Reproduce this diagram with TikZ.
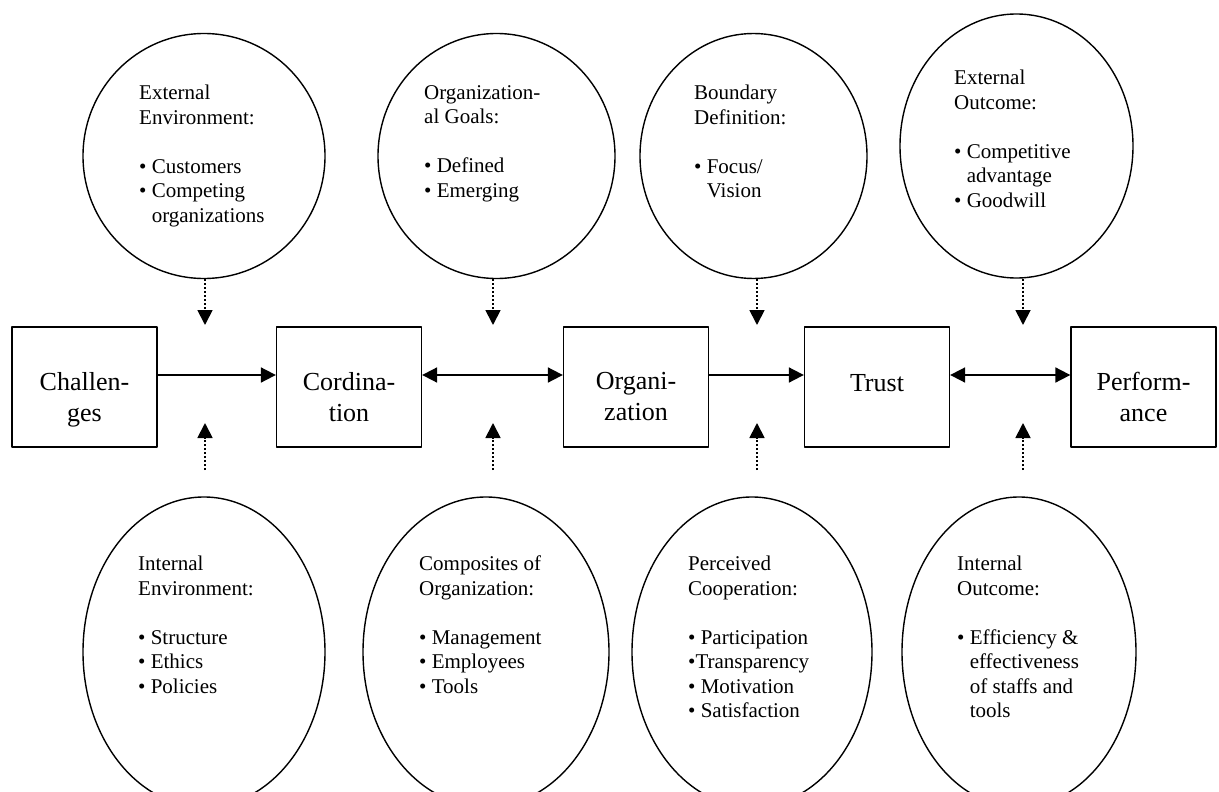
\documentclass[tikz,border=0pt]{standalone}
\usepackage{fontspec}
\setmainfont{Liberation Serif}
\usetikzlibrary{arrows.meta,shapes.geometric}
\begin{document}
\begin{tikzpicture}[x=1pt,y=-1pt,>={Triangle[length=15pt,width=15pt]},line join=round,
	blk/.style={draw,line width=1.3pt,minimum width=145pt,minimum height=120pt,inner sep=0pt},
	blktxt/.style={anchor=north,align=center,inner sep=0pt,font=\fontsize{26}{31}\selectfont},
	oval/.style={draw,ellipse,line width=1.4pt,inner sep=0pt},
	ovtxt/.style={anchor=north west,align=left,inner sep=0pt,font=\fontsize{21}{24.5}\selectfont},
	flow/.style={->,line width=1.8pt},
	dotarr/.style={->,line width=1.8pt,dash pattern=on 2pt off 2pt}]
	\def\gap{24.5pt}
	\useasboundingbox (0,0) rectangle (1219,792);
	
	% chain of boxes
	\node[blk] (chal) at (84.5,387) {};
	\node[blk] (cord) at (349,387) {};
	\node[blk] (orgn) at (636,387) {};
	\node[blk] (trust) at (877,387) {};
	\node[blk] (perf) at (1143.5,387) {};
	\node[blktxt] (chaltxt) at ([yshift=-46pt]chal.north) {Challen-\\ges};
	\node[blktxt] (cordtxt) at ([yshift=-46pt]cord.north) {Cordina-\\tion};
	\node[blktxt] (orgntxt) at ([yshift=-46pt]orgn.north) {Organi-\\zation};
	\node[blktxt] (trusttxt) at ([yshift=-48pt]trust.north) {Trust};
	\node[blktxt] (perftxt) at ([yshift=-46pt]perf.north) {Perform-\\ance};
	
	\draw[flow] ([yshift=12pt]chal.east) -- ([yshift=12pt]cord.west);
	\draw[flow,<->] ([yshift=12pt]cord.east) -- ([yshift=12pt]orgn.west);
	\draw[flow] ([yshift=12pt]orgn.east) -- ([yshift=12pt]trust.west);
	\draw[flow,<->] ([yshift=12pt]trust.east) -- ([yshift=12pt]perf.west);
	
	% upper ovals
	\node[oval,minimum width=242pt,minimum height=245pt] (extenv) at (204,156) {};
	\node[oval,minimum width=237pt,minimum height=245pt] (orggoal) at (496.5,156) {};
	\node[oval,minimum width=227pt,minimum height=245pt] (bound) at (753.5,156) {};
	\node[oval,minimum width=233pt,minimum height=264pt] (extout) at (1016.5,146) {};
	\node[ovtxt] (extenvtxt) at (139,85) {External\\Environment:\\[\gap]%
		• Customers\\• Competing\\\hphantom{• }organizations};
	\node[ovtxt] (orggoaltxt) at (424,85) {Organization-\\al Goals:\\[\gap]%
		• Defined\\• Emerging};
	\node[ovtxt] (boundtxt) at (694,85) {Boundary\\Definition:\\[\gap]%
		• Focus/\\\hphantom{• }Vision};
	\node[ovtxt] (extouttxt) at (954,70) {External\\Outcome:\\[\gap]%
		• Competitive\\\hphantom{• }advantage\\• Goodwill};
	
	% lower ovals
	\node[oval,minimum width=242pt,minimum height=310pt] (intenv) at (204,652) {};
	\node[oval,minimum width=246pt,minimum height=310pt] (compos) at (486,652) {};
	\node[oval,minimum width=240pt,minimum height=310pt] (percoop) at (752,652) {};
	\node[oval,minimum width=234pt,minimum height=310pt] (intout) at (1019,652) {};
	\node[ovtxt] (intenvtxt) at (138,556) {Internal\\Environment:\\[\gap]%
		• Structure\\• Ethics\\• Policies};
	\node[ovtxt] (compostxt) at (419,556) {Composites of\\Organization:\\[\gap]%
		• Management\\• Employees\\• Tools};
	\node[ovtxt] (percooptxt) at (688,556) {Perceived\\Cooperation:\\[\gap]%
		• Participation\\•Transparency\\• Motivation\\• Satisfaction};
	\node[ovtxt] (intouttxt) at (957,556) {Internal\\Outcome:\\[\gap]%
		• Efficiency \&\\\hphantom{• }effectiveness\\\hphantom{• }of staffs and\\\hphantom{• }tools};
	
	% dotted influences
	\foreach \n/\x in {1/205,2/493,3/757,4/1023}{
		\coordinate (dn\n) at (\x,325);
		\coordinate (up\n) at (\x,423);
		\coordinate (upst\n) at (\x,470);
		\draw[dotarr] (upst\n) -- (up\n);
	}
	\draw[dotarr] (extenv.south -| dn1) -- (dn1);
	\draw[dotarr] (orggoal.south -| dn2) -- (dn2);
	\draw[dotarr] (bound.south -| dn3) -- (dn3);
	\draw[dotarr] (extout.south -| dn4) -- (dn4);
\end{tikzpicture}
\end{document}
